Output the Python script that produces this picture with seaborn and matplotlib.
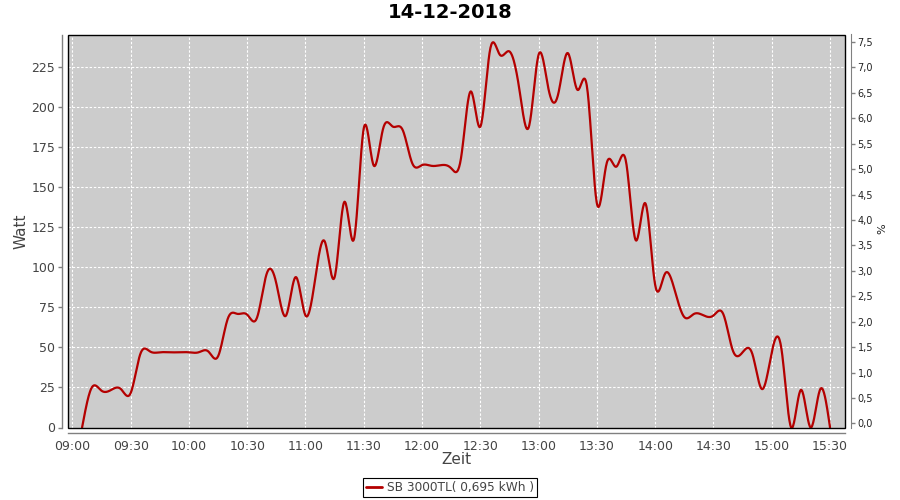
import numpy as np
import pandas as pd
import matplotlib
matplotlib.use("Agg")
import matplotlib.pyplot as plt
import seaborn as sns
from matplotlib.ticker import FixedLocator
from matplotlib.lines import Line2D
from matplotlib.patches import Rectangle

# ---- data (5-minute samples, minutes after midnight) ----
start_minute = 9 * 60 + 5
step_minutes = 5
watt = [0, 25, 23, 23.5, 24, 21.5, 46, 47.5, 47, 47, 47, 47, 47, 47.5, 44.5,
        68, 71, 70.5, 68.5, 96, 90, 70, 94, 70, 93, 116, 94, 141, 118, 187,
        164, 187, 188, 186, 165, 164, 163.5, 164, 162, 168, 210, 188, 236, 233,
        235, 212, 188, 233, 212, 208, 234, 211, 212, 140, 165, 163, 166, 117,
        140, 89, 96, 86, 69, 71, 70, 70, 71, 48, 47, 46, 24, 47, 49, 0, 23.5,
        0, 24, 0]
title = "14-12-2018"
series_label = "SB 3000TL( 0,695 kWh )"
x_ticks = ["09:00", "09:30", "10:00", "10:30", "11:00", "11:30", "12:00",
           "12:30", "13:00", "13:30", "14:00", "14:30", "15:00", "15:30"]
left_ticks = [0, 25, 50, 75, 100, 125, 150, 175, 200, 225]
right_ticks = [0.0, 0.5, 1.0, 1.5, 2.0, 2.5, 3.0, 3.5, 4.0, 4.5, 5.0, 5.5, 6.0, 6.5, 7.0, 7.5]

minutes = start_minute + step_minutes * np.arange(len(watt))


def natural_spline(x, y, xs):
    x = np.asarray(x, float); y = np.asarray(y, float)
    n = len(x); h = np.diff(x)
    A = np.zeros((n, n)); r = np.zeros(n)
    A[0, 0] = 1; A[-1, -1] = 1
    for i in range(1, n - 1):
        A[i, i - 1] = h[i - 1]; A[i, i] = 2 * (h[i - 1] + h[i]); A[i, i + 1] = h[i]
        r[i] = 6 * ((y[i + 1] - y[i]) / h[i] - (y[i] - y[i - 1]) / h[i - 1])
    M = np.linalg.solve(A, r)
    idx = np.clip(np.searchsorted(x, xs) - 1, 0, n - 2)
    x0, x1 = x[idx], x[idx + 1]; hh = x1 - x0
    a = (x1 - xs) / hh; b = (xs - x0) / hh
    return (a * y[idx] + b * y[idx + 1]
            + ((a ** 3 - a) * M[idx] + (b ** 3 - b) * M[idx + 1]) * hh ** 2 / 6)


fine_t = np.linspace(minutes[0], minutes[-1], 1600)
df = pd.DataFrame({"t": fine_t, "W": natural_spline(minutes, watt, fine_t)})

sns.set_style("white")
plt.rcParams["font.family"] = ["DejaVu Sans"]

W, H = 900, 500
fig = plt.figure(figsize=(9, 5), dpi=100)
L, R, T, B = 67.7, 845, 34.5, 427.5
ax = fig.add_axes([L / W, 1 - B / H, (R - L) / W, (B - T) / H])
ax.set_facecolor("#cccccc")

line_color = "#b40000"
sns.lineplot(data=df, x="t", y="W", ax=ax, color=line_color, linewidth=1.6, legend=False)

ax.set_ylim(0, 245.6)
ax.set_xlim(537.6, 937.7)
tick_pos = [int(s[:2]) * 60 + int(s[3:]) for s in x_ticks]
ax.xaxis.set_major_locator(FixedLocator(tick_pos))
ax.set_xticklabels(x_ticks)
ax.yaxis.set_major_locator(FixedLocator(left_ticks))
ax.set_yticklabels([str(v) for v in left_ticks])

ax.grid(True, color="white", linestyle=(0, (2.2, 1.6)), linewidth=0.8)
ax.set_axisbelow(True)
ax.set_xlabel(""); ax.set_ylabel("")

for s in ["top", "right"]:
    ax.spines[s].set_visible(False)
for s in ["left", "bottom"]:
    ax.spines[s].set_position(("outward", 4))
    ax.spines[s].set_color("#808080")
    ax.spines[s].set_linewidth(1)
ax.add_patch(Rectangle((0, 0), 1, 1, transform=ax.transAxes, fill=False,
                       edgecolor="black", linewidth=1.0, clip_on=False, zorder=5))
ax.tick_params(axis="both", which="major", direction="out", length=3, width=1,
               color="#808080", labelcolor="#444444", labelsize=9, pad=2)

ax2 = ax.twinx()
ax2.set_ylim(-0.079, 7.646)
ax2.yaxis.set_major_locator(FixedLocator(right_ticks))
ax2.set_yticklabels([f"{v:.1f}".replace(".", ",") for v in right_ticks])
for s in ["top", "left", "bottom"]:
    ax2.spines[s].set_visible(False)
ax2.spines["right"].set_position(("outward", 4))
ax2.spines["right"].set_color("#808080")
ax2.tick_params(axis="y", direction="out", length=3, width=1, color="#808080",
                labelcolor="#222222", labelsize=7, pad=2)

fig.text(0.5, 1 - 13 / H, title, ha="center", va="center", fontsize=14,
         fontweight="bold", color="black")
fig.text((L + R) / 2 / W, 1 - 460 / H, "Zeit", ha="center", va="center",
         fontsize=11, color="#444444")
fig.text(21 / W, 1 - 231 / H, "Watt", ha="center", va="center", rotation=90,
         fontsize=11, color="#444444")
fig.text(882 / W, 1 - 229 / H, "%", ha="center", va="center", rotation=90,
         fontsize=8, color="#222222")

handle = Line2D([], [], color=line_color, linewidth=2)
leg = fig.legend([handle], [series_label], loc="center",
                 bbox_to_anchor=(450 / W, 1 - 487.5 / H), frameon=True,
                 fancybox=False, edgecolor="black", framealpha=1,
                 fontsize=8.7, handlelength=1.4, handletextpad=0.4,
                 borderpad=0.25, borderaxespad=0)
for t in leg.get_texts():
    t.set_color("#444444")
leg.get_frame().set_linewidth(0.8)

fig.savefig("out.png", dpi=100)
